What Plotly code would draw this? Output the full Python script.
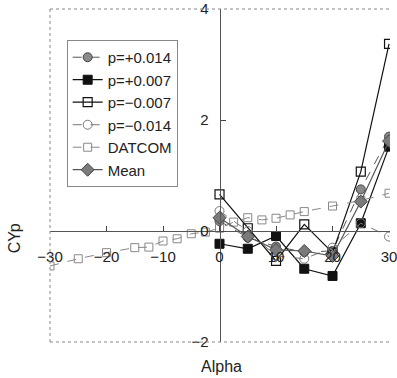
import plotly.graph_objects as go

# Angle of attack (deg) for the test runs
alpha = [0, 5, 10, 15, 20, 25, 30]

# CYp for each roll-rate run
cyp_p_pos014 = [0.18, -0.12, -0.28, -0.38, -0.36, 0.75, 1.70]
cyp_p_pos007 = [-0.23, -0.32, -0.09, -0.68, -0.81, 0.14, 1.52]
cyp_p_neg007 = [0.66, 0.05, -0.54, 0.12, -0.39, 1.07, 3.37]
cyp_p_neg014 = [0.36, 0.00, -0.45, -0.50, -0.30, 0.14, -0.10]
cyp_mean = [0.24, -0.10, -0.34, -0.36, -0.45, 0.53, 1.62]

# DATCOM prediction
alpha_datcom = [-30, -25, -20, -15, -12.5, -10, -7.5, -5, -2.5, 0,
                2.5, 5, 7.5, 10, 12.5, 15, 20, 25, 30]
cyp_datcom = [-0.63, -0.50, -0.39, -0.30, -0.29, -0.18, -0.14, -0.05, -0.02, 0.05,
              0.16, 0.24, 0.20, 0.23, 0.29, 0.35, 0.45, 0.55, 0.68]

x_ticks = [-30, -20, -10, 0, 10, 20, 30]
y_ticks = [-2, 0, 2, 4]

FONT = "Liberation Sans, Arial, sans-serif"
X_RANGE = [-30, 30.17]
Y_RANGE = [-2, 4]

fig = go.Figure()

series = [
    ("p=+0.014", alpha, cyp_p_pos014,
     dict(symbol="circle", size=9, color="#8a8a8a", line=dict(color="#444", width=1)),
     dict(color="#555", width=1, dash="dash")),
    ("p=+0.007", alpha, cyp_p_pos007,
     dict(symbol="square", size=9, color="#111", line=dict(color="#111", width=1)),
     dict(color="#111", width=1.2)),
    ("p=\u22120.007", alpha, cyp_p_neg007,
     dict(symbol="square-open", size=9, color="#111", line=dict(color="#111", width=1.2)),
     dict(color="#111", width=1.2)),
    ("p=\u22120.014", alpha, cyp_p_neg014,
     dict(symbol="circle-open", size=9, color="#777", line=dict(color="#777", width=1)),
     dict(color="#777", width=1, dash="dash")),
    ("DATCOM", alpha_datcom, cyp_datcom,
     dict(symbol="square-open", size=8, color="#888", line=dict(color="#888", width=1)),
     dict(color="#888", width=1, dash="dash")),
    ("Mean", alpha, cyp_mean,
     dict(symbol="diamond", size=10, color="#7a7a7a", line=dict(color="#444", width=1)),
     dict(color="#555", width=1.2)),
]

for name, xs, ys, marker, line in series:
    fig.add_trace(go.Scatter(x=xs, y=ys, name=name, mode="lines+markers",
                             marker=marker, line=line))

# Plot frame (top, left, bottom)
frame = dict(color="#888", width=1, dash="dot")
fig.add_shape(type="line", xref="paper", yref="paper", x0=0, x1=1, y0=1, y1=1, line=frame)
fig.add_shape(type="line", xref="paper", yref="paper", x0=0, x1=0, y0=0, y1=1, line=frame)
fig.add_shape(type="line", xref="paper", yref="paper", x0=0, x1=1, y0=0, y1=0, line=frame)

x_zero_pos = (0 - Y_RANGE[0]) / (Y_RANGE[1] - Y_RANGE[0])
y_zero_pos = (0 - X_RANGE[0]) / (X_RANGE[1] - X_RANGE[0])

# plot-area size in px, used to place the axis titles
plot_w = 397 - 50
plot_h = 378 - 7 - 36

fig.update_layout(
    width=397, height=378,
    margin=dict(l=50, r=0, t=7, b=36),
    paper_bgcolor="white", plot_bgcolor="white",
    font=dict(family=FONT, size=15, color="#222"),
    showlegend=True,
    legend=dict(x=0.049, y=0.907, xanchor="left", yanchor="top",
                bgcolor="white", bordercolor="#888", borderwidth=1,
                font=dict(size=15, family=FONT), itemwidth=30,
                tracegroupgap=0),
    xaxis=dict(range=X_RANGE, anchor="free", position=x_zero_pos,
               tickvals=x_ticks, ticks="inside", ticklen=5, tickcolor="#444",
               showline=True, linecolor="#555", linewidth=1,
               showgrid=False, zeroline=False, ticklabelstandoff=12,
               ticklabeloverflow="allow",
               tickfont=dict(size=15, family=FONT)),
    yaxis=dict(range=Y_RANGE, anchor="free", position=y_zero_pos,
               tickvals=y_ticks, ticks="inside", ticklen=5, tickcolor="#444",
               showline=True, linecolor="#555", linewidth=1,
               showgrid=False, zeroline=False, ticklabelstandoff=8,
               ticklabeloverflow="allow",
               tickfont=dict(size=15, family=FONT)),
    annotations=[
        dict(text="Alpha", xref="paper", yref="paper",
             x=(225 - 50) / plot_w, y=(378 - 36 - 367) / plot_h,
             xanchor="center", yanchor="middle",
             showarrow=False, font=dict(size=16, family=FONT)),
        dict(text="CYp", textangle=-90, xref="paper", yref="paper",
             x=(14 - 50) / plot_w, y=(378 - 36 - 238) / plot_h,
             xanchor="center", yanchor="middle",
             showarrow=False, font=dict(size=16, family=FONT)),
    ],
)

fig.write_html("out.html")
